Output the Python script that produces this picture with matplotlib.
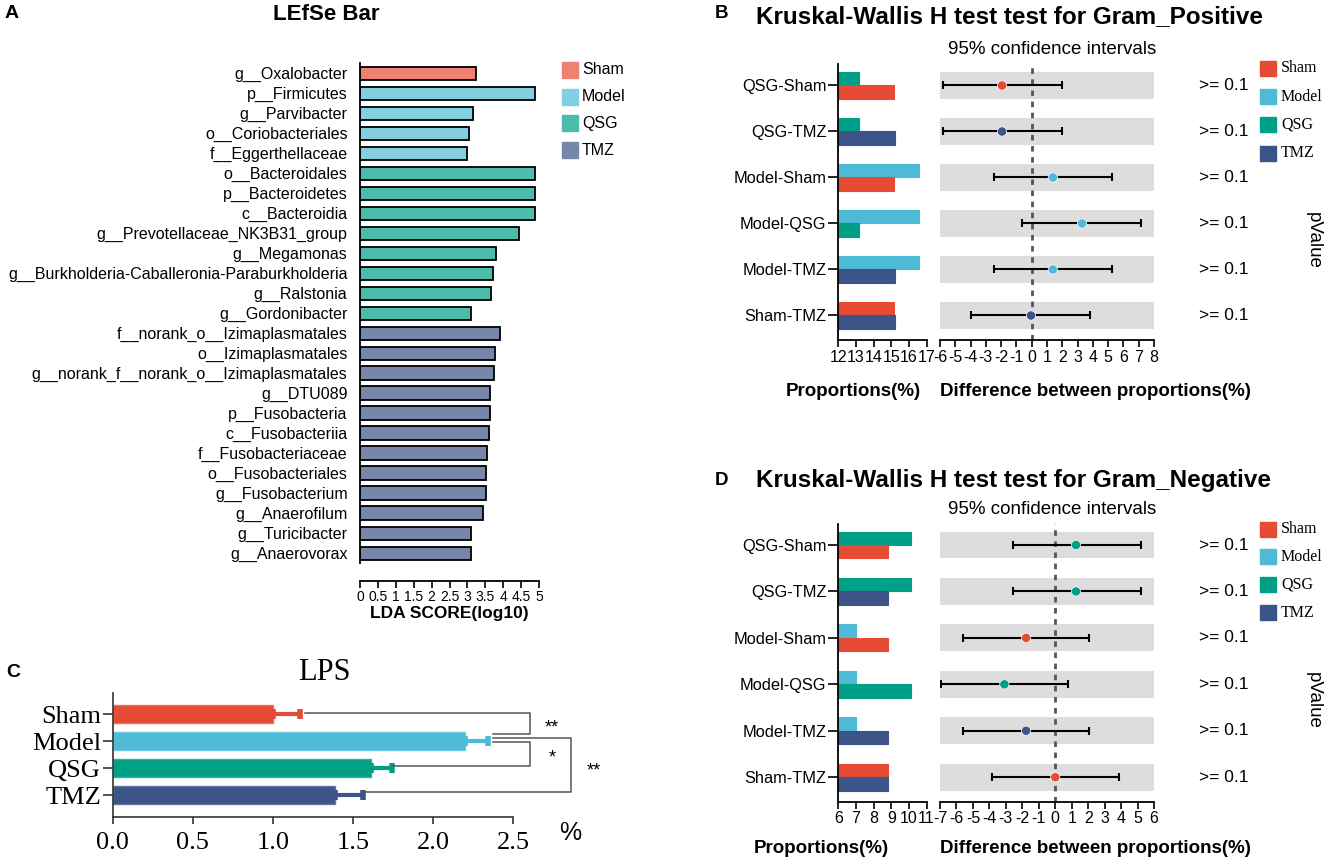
import matplotlib
matplotlib.use("Agg")
import matplotlib.pyplot as plt
import matplotlib.transforms as mtransforms
from matplotlib.patches import Rectangle
import numpy as np

plt.rcParams['font.family'] = ['Liberation Sans', 'DejaVu Sans']
plt.rcParams['axes.unicode_minus'] = False
SERIF = ['Liberation Serif', 'DejaVu Serif']

W, H = 1325, 863
fig = plt.figure(figsize=(W / 100, H / 100), dpi=100)

groups = ['Sham', 'Model', 'QSG', 'TMZ']
group_colors = {'Sham': '#E64B35', 'Model': '#4DBBD5', 'QSG': '#00A087', 'TMZ': '#3C5488'}

# ---- panel A : LEfSe
lefse_taxa = ['g__Oxalobacter', 'p__Firmicutes', 'g__Parvibacter', 'o__Coriobacteriales',
              'f__Eggerthellaceae', 'o__Bacteroidales', 'p__Bacteroidetes', 'c__Bacteroidia',
              'g__Prevotellaceae_NK3B31_group', 'g__Megamonas',
              'g__Burkholderia-Caballeronia-Paraburkholderia', 'g__Ralstonia', 'g__Gordonibacter',
              'f__norank_o__Izimaplasmatales', 'o__Izimaplasmatales',
              'g__norank_f__norank_o__Izimaplasmatales', 'g__DTU089', 'p__Fusobacteria',
              'c__Fusobacteriia', 'f__Fusobacteriaceae', 'o__Fusobacteriales', 'g__Fusobacterium',
              'g__Anaerofilum', 'g__Turicibacter', 'g__Anaerovorax']
lefse_score = [3.24, 4.90, 3.16, 3.04, 2.99, 4.90, 4.90, 4.90, 4.45, 3.80, 3.72, 3.65, 3.09,
               3.92, 3.77, 3.75, 3.64, 3.62, 3.59, 3.55, 3.53, 3.53, 3.43, 3.10, 3.10]
lefse_group = ['Sham'] + ['Model'] * 4 + ['QSG'] * 8 + ['TMZ'] * 12
lefse_ticks = [0, 0.5, 1, 1.5, 2, 2.5, 3, 3.5, 4, 4.5, 5]

# ---- panel C : LPS
lps_mean = [1.0, 2.2, 1.615, 1.385]
lps_err = [0.168, 0.142, 0.125, 0.177]

# ---- panels B / D : Kruskal-Wallis
pairs = ['QSG-Sham', 'QSG-TMZ', 'Model-Sham', 'Model-QSG', 'Model-TMZ', 'Sham-TMZ']
pvals = ['>= 0.1'] * 6

gp_mean = {'Sham': 15.15, 'Model': 16.55, 'QSG': 13.2, 'TMZ': 15.2}
gp_diff = [-1.94, -1.94, 1.38, 3.29, 1.38, -0.05]
gp_lo = [-5.8, -5.8, -2.46, -0.63, -2.46, -3.96]
gp_hi = [1.98, 1.98, 5.25, 7.16, 5.25, 3.81]
gp_dot = ['Sham', 'TMZ', 'Model', 'Model', 'Model', 'TMZ']

gn_mean = {'Sham': 8.8, 'Model': 7.02, 'QSG': 10.14, 'TMZ': 8.8}
gn_diff = [1.26, 1.26, -1.77, -3.09, -1.77, 0.0]
gn_lo = [-2.57, -2.57, -5.61, -6.93, -5.61, -3.82]
gn_hi = [5.2, 5.2, 2.06, 0.78, 2.06, 3.86]
gn_dot = ['QSG', 'QSG', 'Sham', 'QSG', 'TMZ', 'Sham']


def pax(x0, y0, x1, y1):
    a = fig.add_axes([x0 / W, 1 - y1 / H, (x1 - x0) / W, (y1 - y0) / H])
    a.set_facecolor('none')
    return a


def ptext(x, y, s, **kw):
    kw.setdefault('ha', 'center')
    kw.setdefault('va', 'center')
    fig.text(x / W, 1 - y / H, s, **kw)


def lighten(c, a=0.7):
    rgb = np.array(matplotlib.colors.to_rgb(c))
    return tuple(rgb * a + (1 - a))


# ================= A =================
axA = pax(360, 63.3, 539, 563.3)
yA = np.arange(len(lefse_taxa))
axA.barh(yA, lefse_score, height=0.68, color=[lighten(group_colors[g]) for g in lefse_group],
         edgecolor='black', linewidth=1.3)
axA.set_xlim(0, 5)
axA.set_ylim(len(lefse_taxa) - 0.5, -0.5)
axA.set_yticks(yA)
axA.set_yticklabels(lefse_taxa, fontsize=11.5)
axA.tick_params(axis='y', length=0, pad=9)
axA.set_xticks(lefse_ticks)
axA.set_xticklabels([('%g' % t) for t in lefse_ticks], fontsize=12)
axA.tick_params(axis='x', length=5, width=1.2, pad=1)
for s in ['top', 'right']:
    axA.spines[s].set_visible(False)
axA.spines['left'].set_linewidth(1.3)
axA.spines['bottom'].set_linewidth(1.3)
axA.spines['bottom'].set_position(('outward', 13))
ptext(449, 613, 'LDA SCORE(log10)', fontsize=12.5, fontweight='bold')
ptext(326, 15, 'LEfSe Bar', fontsize=16, fontweight='bold')
ptext(12, 13, 'A', fontsize=14, fontweight='bold')

# ================= C =================
axC = pax(112.7, 693, 513.3, 816.7)
yC = np.arange(len(groups))
axC.barh(yC, lps_mean, height=0.64, color=[group_colors[g] for g in groups],
         edgecolor=[lighten(group_colors[g], 0.8) for g in groups], linewidth=1)
for i, g in enumerate(groups):
    axC.errorbar(lps_mean[i], i, xerr=[[0], [lps_err[i]]], fmt='none', ecolor=group_colors[g],
                 elinewidth=3, capsize=3.5, capthick=4)
axC.set_xlim(0, 2.5)
axC.set_ylim(3.8, -0.78)
axC.set_yticks(yC)
axC.set_yticklabels(groups, fontsize=19, family=SERIF)
axC.set_xticks([0, 0.5, 1.0, 1.5, 2.0, 2.5])
axC.set_xticklabels(['0.0', '0.5', '1.0', '1.5', '2.0', '2.5'], fontsize=19, family=SERIF)
axC.tick_params(axis='y', length=7, width=1.2, pad=1.5, color='#333333')
axC.tick_params(axis='x', length=5, width=1.2, pad=6, color='#333333')
for s in ['top', 'right']:
    axC.spines[s].set_visible(False)
for s in ['left', 'bottom']:
    axC.spines[s].set_linewidth(1.2)
    axC.spines[s].set_color('#333333')

ends = [m + e for m, e in zip(lps_mean, lps_err)]
bk = dict(color='#555555', lw=1.1, clip_on=False)
xa, xb = 2.607, 2.857
axC.plot([ends[0] + 0.03, xa, xa, ends[1] + 0.03], [-0.05, -0.05, 0.73, 0.73], **bk)
axC.plot([ends[1] + 0.03, xa, xa, ends[2] + 0.01], [1.04, 1.04, 1.92, 1.92], **bk)
axC.plot([ends[1] + 0.03, xb, xb, ends[3] + 0.01], [0.87, 0.87, 2.88, 2.88], **bk)
axC.text(2.74, 0.5, '**', fontsize=13, ha='center', va='center', clip_on=False)
axC.text(2.745, 1.63, '*', fontsize=13, ha='center', va='center', clip_on=False)
axC.text(3.0, 2.1, '**', fontsize=13, ha='center', va='center', clip_on=False)
ptext(570, 833, '%', fontsize=18)
ptext(324, 672, 'LPS', fontsize=22, family=SERIF)
ptext(13, 672, 'C', fontsize=14, fontweight='bold')


# ================= B / D =================
def kw_panel(top, bottom, mean, diff, lo, hi, dot, prop_lim, diff_lim, prop_label_x, lab_gap):
    axl = pax(838.3, top, 926.5, bottom)
    axr = pax(940, top, 1154, bottom)
    n = len(pairs)
    y = np.arange(n)
    step = (bottom - top - 46) / (n - 1)
    y0 = -21.5 / step
    y1 = (n - 1) + 24.5 / step
    for i, p in enumerate(pairs):
        g1, g2 = p.split('-')
        axl.barh(i - 0.145, mean[g1], height=0.29, color=group_colors[g1],
                 edgecolor=group_colors[g1], linewidth=0.8)
        axl.barh(i + 0.145, mean[g2], height=0.29, color=group_colors[g2],
                 edgecolor=group_colors[g2], linewidth=0.8)
    axl.set_xlim(*prop_lim)
    axl.set_ylim(y1, y0)
    axl.set_yticks(y)
    axl.set_yticklabels(pairs, fontsize=11.8)
    axl.set_xticks(np.arange(prop_lim[0], prop_lim[1] + 1))
    axl.tick_params(axis='y', length=7, width=1.2, pad=1.5)
    axl.tick_params(axis='x', length=5, width=1.2, pad=2, labelsize=11.5)
    for s in ['top', 'right']:
        axl.spines[s].set_visible(False)
    for s in ['left', 'bottom']:
        axl.spines[s].set_linewidth(1.3)

    axr.barh(y, diff_lim[1] - diff_lim[0], left=diff_lim[0], height=0.58, color='#DDDDDD', zorder=0)
    axr.axvline(0, color='#555555', ls=(0, (2, 2)), lw=2, zorder=1)
    axr.errorbar(diff, y, xerr=[np.array(diff) - np.array(lo), np.array(hi) - np.array(diff)],
                 fmt='none', ecolor='black', elinewidth=1.5, capsize=3, capthick=1.5, zorder=2)
    axr.scatter(diff, y, s=45, c=[group_colors[g] for g in dot], edgecolors='white',
                linewidths=0.5, zorder=3)
    axr.set_xlim(*diff_lim)
    axr.set_ylim(y1, y0)
    axr.set_xticks(np.arange(diff_lim[0], diff_lim[1] + 1))
    axr.set_yticks([])
    axr.tick_params(axis='x', length=5, width=1.2, pad=2, labelsize=11.5)
    for s in ['top', 'right', 'left']:
        axr.spines[s].set_visible(False)
    axr.spines['bottom'].set_linewidth(1.3)
    tr = mtransforms.blended_transform_factory(axr.transAxes, axr.transData)
    for i, pv in enumerate(pvals):
        axr.text((1224 - 940) / 214, i, pv, transform=tr, fontsize=12.5, ha='center', va='center')
    ptext(1052, top - 14, '95% confidence intervals', fontsize=13.5)
    ptext(prop_label_x, bottom + lab_gap, 'Proportions(%)', fontsize=13.5, fontweight='bold')
    ptext(940, bottom + lab_gap, 'Difference between proportions(%)', fontsize=13.5,
          fontweight='bold', ha='left')
    ptext(1313, (top + bottom) / 2 + 38, 'pValue', fontsize=13.5, rotation=-90)


kw_panel(64, 340, gp_mean, gp_diff, gp_lo, gp_hi, gp_dot, (12, 17), (-6, 8), 853, 52)
ptext(722, 13, 'B', fontsize=13.5, fontweight='bold')
ptext(756, 17, 'Kruskal-Wallis H test test for Gram_Positive', fontsize=17.5, fontweight='bold', ha='left')

kw_panel(523.5, 801.7, gn_mean, gn_diff, gn_lo, gn_hi, gn_dot, (6, 11), (-7, 6), 821, 47)
ptext(722, 480, 'D', fontsize=13.5, fontweight='bold')
ptext(756, 480, 'Kruskal-Wallis H test test for Gram_Negative', fontsize=17.5, fontweight='bold', ha='left')

# ---- legends drawn in pixel space
ov = fig.add_axes([0, 0, 1, 1])
ov.set_xlim(0, W)
ov.set_ylim(H, 0)
ov.axis('off')
ov.set_facecolor('none')
for i, g in enumerate(groups):
    yy = 70 + i * 26.7
    ov.add_patch(Rectangle((562, yy - 8), 16, 16, color=lighten(group_colors[g])))
    ov.text(582, yy, g, fontsize=11.5, va='center', ha='left')
for base, stepy in [(68.3, 28.3), (529, 27.9)]:
    for i, g in enumerate(groups):
        yy = base + i * stepy
        ov.add_patch(Rectangle((1260, yy - 7.5), 16, 15, facecolor=group_colors[g],
                               edgecolor=group_colors[g], lw=1))
        ov.text(1281, yy, g, fontsize=11.5, va='center', ha='left', family=SERIF)

fig.savefig('out.png', dpi=100)
